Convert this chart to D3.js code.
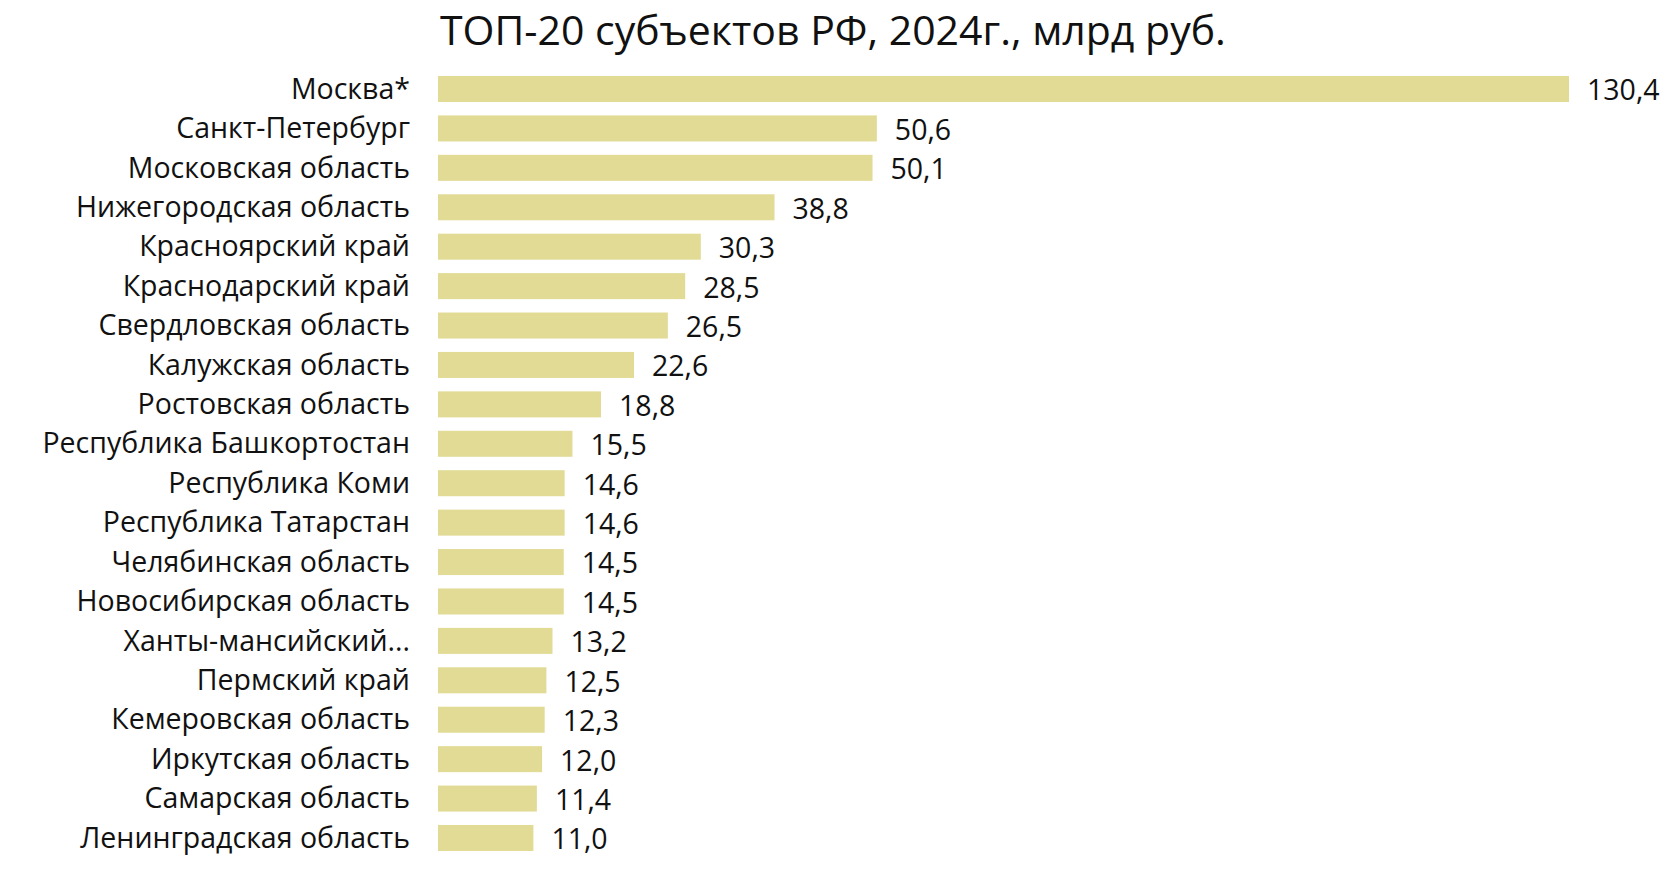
<!DOCTYPE html>
<html><head><meta charset="utf-8">
<script src="https://cdn.jsdelivr.net/npm/d3@7"></script>
<style>
html,body{margin:0;padding:0;background:#fff;}
svg{display:block;}
</style>
</head><body>
<svg id="chart" width="1680" height="896"></svg>
<script>
const titleText = "ТОП-20 субъектов РФ, 2024г., млрд руб.";
const regions = ["Москва*","Санкт-Петербург","Московская область","Нижегородская область","Красноярский край","Краснодарский край","Свердловская область","Калужская область","Ростовская область","Республика Башкортостан","Республика Коми","Республика Татарстан","Челябинская область","Новосибирская область","Ханты-мансийский...","Пермский край","Кемеровская область","Иркутская область","Самарская область","Ленинградская область"];
const values = [130.4,50.6,50.1,38.8,30.3,28.5,26.5,22.6,18.8,15.5,14.6,14.6,14.5,14.5,13.2,12.5,12.3,12.0,11.4,11.0];

const svg = d3.select("#chart");
const font = "'Open Sans', Lato, sans-serif";
const data = regions.map((r,i)=>({r, v: values[i]}));

const x = d3.scaleLinear().domain([0, 130.4]).range([438, 1569]);
const step = 39.42;
const y0 = 76 - 0.17*step;
const y = d3.scaleBand().domain(regions).range([y0, y0 + 20*step]).paddingInner(0.34).paddingOuter(0.17);

svg.append("text").attr("x", 440).attr("y", 44.5)
  .attr("font-family", font).attr("font-size", 41)
  .attr("fill", "#111").text(titleText);

svg.selectAll("rect.bar").data(data).join("rect").attr("class","bar")
  .attr("x", x(0)).attr("y", d=>y(d.r))
  .attr("width", d=>x(d.v)-x(0)).attr("height", y.bandwidth())
  .attr("fill", "#e2db96");

const fmt = v => d3.format(".1f")(v).replace(".", ",");

svg.selectAll("text.val").data(data).join("text").attr("class","val")
  .attr("x", d=>x(d.v)+18).attr("y", d=>y(d.r)+y.bandwidth()/2)
  .attr("dy", "0.4em")
  .attr("font-family", font).attr("font-size", 28.5)
  .attr("fill", "#111").text(d=>fmt(d.v));

const yAxis = d3.axisLeft(y).tickSize(0).tickPadding(0);
const g = svg.append("g").attr("transform", "translate(410,0)").call(yAxis);
g.select(".domain").remove();
g.selectAll("text").attr("font-family", font).attr("font-size", 28.5).attr("fill", "#111").attr("dy","0.34em");
</script>
</body></html>
